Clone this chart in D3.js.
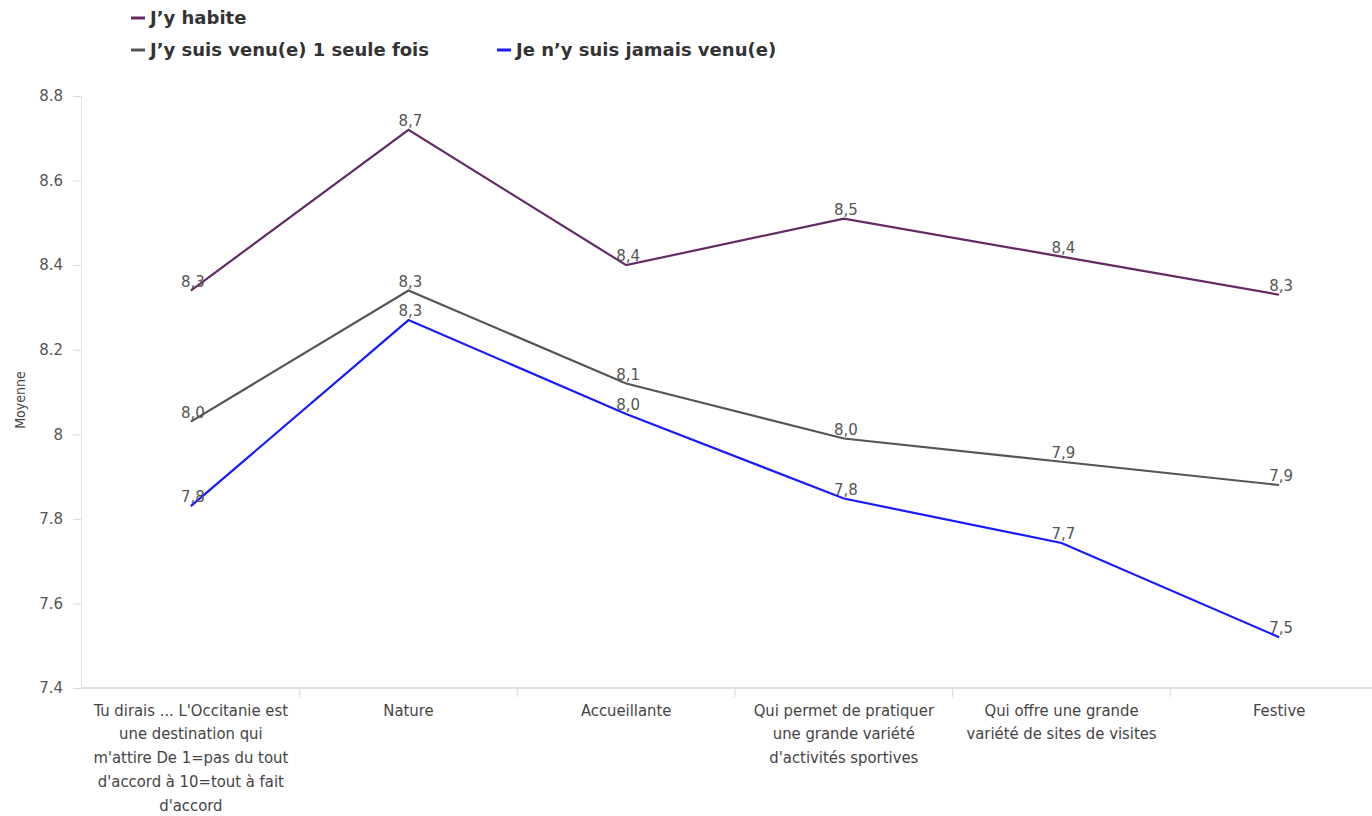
<!DOCTYPE html>
<html><head><meta charset="utf-8">
<script src="https://cdn.jsdelivr.net/npm/d3@7"></script>
<style>
body{margin:0;background:#fff;}
svg{display:block;font-family:"DejaVu Sans",sans-serif;}
</style></head>
<body><svg id="c" width="1372" height="816"></svg>
<script>
const categories = [
  "Tu dirais ... L'Occitanie est une destination qui m'attire De 1=pas du tout d'accord à 10=tout à fait d'accord",
  "Nature",
  "Accueillante",
  "Qui permet de pratiquer une grande variété d'activités sportives",
  "Qui offre une grande variété de sites de visites",
  "Festive"
];
const seriesNames = ["J\u2019y habite", "J\u2019y suis venu(e) 1 seule fois", "Je n\u2019y suis jamais venu(e)"];
const habite = [8.34, 8.72, 8.40, 8.51, 8.42, 8.33];
const venuUneFois = [8.03, 8.34, 8.12, 7.99, 7.935, 7.88];
const jamaisVenu = [7.83, 8.27, 8.048, 7.848, 7.743, 7.52];
const yTicks = [7.4, 7.6, 7.8, 8, 8.2, 8.4, 8.6, 8.8];
const colors = ["#642a63", "#555555", "#1a1aff"];
const yTitle = "Moyenne";

const series = [habite, venuUneFois, jamaisVenu];
const svg = d3.select("#c");
const x = d3.scaleBand().domain(categories).range([82, 1388]).padding(0);
const y = d3.scaleLinear().domain([7.4, 8.8]).range([688, 96]);

// y axis
const yAxis = svg.append("g").attr("transform","translate(81,0)")
  .call(d3.axisLeft(y).tickValues(yTicks).tickSize(8).tickPadding(10)
     .tickFormat(d => d3.format("")(d)));
yAxis.select(".domain").attr("stroke","#e3e3e3");
yAxis.selectAll(".tick line").attr("stroke","#d8d8d8");
yAxis.selectAll(".tick text").attr("fill","#555").style("font-size","15px").style("font-family","'DejaVu Sans',sans-serif");

// x axis
const xAxis = svg.append("g").attr("transform","translate(0,688)")
  .call(d3.axisBottom(x).tickSize(0).tickPadding(16));
xAxis.select(".domain").attr("stroke","#e0e0e0").attr("stroke-width",2).attr("d","M81,0H1372");
xAxis.selectAll(".tick text").attr("fill","#444").style("font-size","16.5px").style("font-family","'DejaVu Sans Condensed','DejaVu Sans',sans-serif")
  .call(wrap, 200);
// separators
svg.append("g").selectAll("line").data(categories.slice(1)).join("line")
  .attr("x1", d => x(d)).attr("x2", d => x(d)).attr("y1", 689).attr("y2", 697)
  .attr("stroke","#e0e0e0").attr("stroke-width",1.5);

function wrap(texts, width){
  texts.each(function(){
    const t = d3.select(this);
    const words = t.text().split(/\s+/);
    const yy = t.attr("y");
    t.text(null);
    let line = [], lineNo = 0;
    let ts = t.append("tspan").attr("x",0).attr("y",yy).attr("dy","0.71em");
    for (const w of words){
      line.push(w);
      ts.text(line.join(" "));
      if (ts.node().getComputedTextLength() > width && line.length > 1){
        line.pop(); ts.text(line.join(" "));
        line = [w]; lineNo++;
        ts = t.append("tspan").attr("x",0).attr("y",yy).attr("dy", (0.71 + lineNo*1.44) + "em").text(w);
      }
    }
  });
}

// y title
svg.append("text").attr("transform","translate(25,400) rotate(-90)")
  .attr("text-anchor","middle").attr("fill","#444").style("font-size","14px")
  .style("font-family","'DejaVu Sans Condensed','DejaVu Sans',sans-serif").text(yTitle);

// lines
const line = d3.line().x((d,i) => x(categories[i]) + x.bandwidth()/2).y(d => y(d));
series.forEach((s, k) => {
  svg.append("path").datum(s).attr("d", line).attr("fill","none")
    .attr("stroke", colors[k]).attr("stroke-width", 2.2).attr("stroke-linejoin","miter");
});
// labels
series.forEach((s, k) => {
  svg.append("g").selectAll("text").data(s).join("text")
    .attr("x", (d,i) => x(categories[i]) + x.bandwidth()/2 + 2)
    .attr("y", d => y(d) - 4)
    .attr("text-anchor","middle").attr("fill","#555").style("font-size","15px")
    .text(d => d.toFixed(1).replace(".", ","));
});

// legend
const legendPos = [[131, 18], [131, 50], [497, 50]];
seriesNames.forEach((n, k) => {
  const [lx, ly] = legendPos[k];
  svg.append("line").attr("x1", lx).attr("x2", lx + 14).attr("y1", ly).attr("y2", ly)
    .attr("stroke", colors[k]).attr("stroke-width", 3);
  svg.append("text").attr("x", lx + 19).attr("y", ly).attr("dy","0.35em")
    .attr("fill","#333").style("font-size","18px").style("font-weight","bold").text(n);
});
</script></body></html>
